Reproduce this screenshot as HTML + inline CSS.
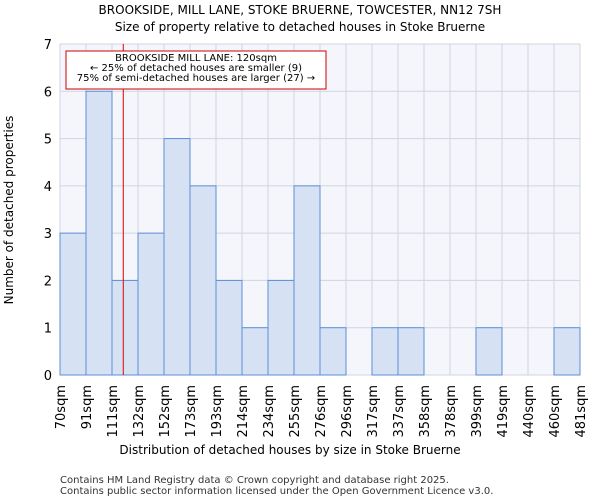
<!DOCTYPE html>
<html><head><meta charset="utf-8"><style>
body{margin:0;background:#fff;font-family:"DejaVu Sans","Liberation Sans",sans-serif;}
</style></head><body>
<svg id="chart" width="600" height="500" xmlns="http://www.w3.org/2000/svg" font-family="DejaVu Sans, Liberation Sans, sans-serif">
<text x="300" y="14" text-anchor="middle" font-size="12">BROOKSIDE, MILL LANE, STOKE BRUERNE, TOWCESTER, NN12 7SH</text>
<text x="300" y="31" text-anchor="middle" font-size="12">Size of property relative to detached houses in Stoke Bruerne</text>
<g id="plot"></g>
<text x="290" y="454" text-anchor="middle" font-size="12">Distribution of detached houses by size in Stoke Bruerne</text>
<text transform="translate(13,210) rotate(-90)" text-anchor="middle" font-size="12">Number of detached properties</text>
<text x="60" y="483" font-size="10" fill="#333">Contains HM Land Registry data © Crown copyright and database right 2025.</text>
<text x="60" y="494" font-size="10" fill="#333">Contains public sector information licensed under the Open Government Licence v3.0.</text>
</svg>
<script>
const binLabels=["70sqm","91sqm","111sqm","132sqm","152sqm","173sqm","193sqm","214sqm","234sqm","255sqm","276sqm","296sqm","317sqm","337sqm","358sqm","378sqm","399sqm","419sqm","440sqm","460sqm","481sqm"];
const counts=[3,6,2,3,5,4,2,1,2,4,1,0,1,1,0,0,1,0,0,1];
const yTicks=[0,1,2,3,4,5,6,7];
const propertySize=120;
const binStart=70, binWidth=20.55;
const L=60,R=580,T=44,B=375,yMax=7;
const NS="http://www.w3.org/2000/svg";
const g=document.getElementById('plot');
const nb=counts.length;
const x=v=>L+(v-binStart)/(binWidth*nb)*(R-L);
const xi=i=>L+i*(R-L)/nb;
const y=v=>B-v/yMax*(B-T);
function mk(t,a,p){const e=document.createElementNS(NS,t);for(const k in a)e.setAttribute(k,a[k]);(p||g).appendChild(e);return e;}
const px=x(propertySize);
let bg=mk('rect',{x:L,y:T,width:R-L,height:B-T,fill:'#f4f6fc'});


for(let i=0;i<=nb;i++){let l=mk('line',{x1:xi(i),x2:xi(i),y1:T,y2:B,stroke:'#d0d4e0','stroke-width':1});

}
yTicks.forEach(v=>{let l=mk('line',{x1:L,x2:R,y1:y(v),y2:y(v),stroke:'#d0d4e0','stroke-width':1});


let t=mk('text',{x:L-8,y:y(v)+5,'text-anchor':'end','font-size':13});t.textContent=v;

});
counts.forEach((c,i)=>{if(c<=0)return;let r=mk('rect',{x:xi(i),y:y(c),width:xi(i+1)-xi(i),height:B-y(c),fill:'#d6e2f4',stroke:'#5b8fd6','stroke-width':1});

});
binLabels.forEach((s,i)=>{let t=mk('text',{transform:`translate(${xi(i)+5},385) rotate(-90)`,'text-anchor':'end','font-size':13});t.textContent=s;

});
let rl=mk('line',{x1:px,x2:px,y1:T,y2:B,stroke:'#d00','stroke-width':1});


let box=mk('rect',{x:66,y:51,width:260,height:38,fill:'#fff',stroke:'#c00','stroke-width':1});


["BROOKSIDE MILL LANE: 120sqm","← 25% of detached houses are smaller (9)","75% of semi-detached houses are larger (27) →"].forEach((s,k)=>{let t=mk('text',{x:196,y:61+k*10,'text-anchor':'middle','font-size':10});t.textContent=s;

});
</script>
</body></html>
